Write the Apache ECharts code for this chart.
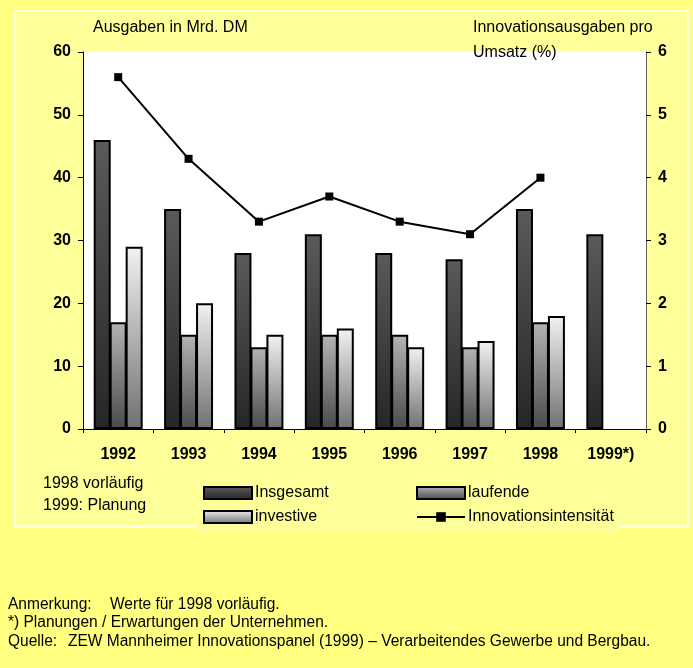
<!DOCTYPE html>
<html>
<head>
<meta charset="utf-8">
<script src="https://cdn.jsdelivr.net/npm/echarts@6/dist/echarts.min.js"></script>
<style>
  html, body { margin: 0; padding: 0; background: #FFFF80; }
  #chart { width: 693px; height: 668px; }
</style>
</head>
<body>
<div id="chart"></div>
<script>
const years = ["1992", "1993", "1994", "1995", "1996", "1997", "1998", "1999*)"];
const insgesamt = [46, 35, 28, 31, 28, 27, 35, 31];
const laufende = [17, 15, 13, 15, 15, 13, 17, null];
const investive = [29, 20, 15, 16, 13, 14, 18, null];
const intensitaet = [5.6, 4.3, 3.3, 3.7, 3.3, 3.1, 4.0, null];

const FONT = "Liberation Sans, Arial, sans-serif";
const innerYellow = "#FFFF99";

const chart = echarts.init(document.getElementById("chart"));

// vertical gradient for the bars
const grad = (top, bottom) => new echarts.graphic.LinearGradient(0, 0, 0, 1, [
  { offset: 0, color: top },
  { offset: 1, color: bottom }
]);

const barStyle = (top, bottom) => ({
  color: grad(top, bottom),
  borderColor: "#000",
  borderWidth: 2
});

const txt = (x, y, text, opts = {}) => ({
  type: "text",
  x: x,
  y: y,
  z: 100,
  scaleX: opts.scaleX || 1,
  style: {
    text: text,
    font: "16px " + FONT,
    fill: "#000",
    verticalAlign: "middle"
  }
});

// footer glyphs are a touch narrower than the rest
const narrow = { scaleX: 0.97 };

// one legend per entry so each one sits where the reference puts it
const legendItem = (name, left, top, icon) => ({
  data: [{ name: name, icon: icon }],
  left: left, top: top, padding: 0,
  itemWidth: 48, itemHeight: 12,
  textStyle: { fontSize: 16, fontFamily: FONT, color: "#000", padding: [0, 0, 0, -2] }
});

const option = {
  animation: false,
  backgroundColor: "#FFFF80",
  grid: {
    left: 83, right: 47, top: 52, bottom: 239,
    show: true, backgroundColor: "#fff", borderWidth: 0
  },
  xAxis: {
    type: "category",
    data: years,
    axisLine: { lineStyle: { color: "#000", width: 1 } },
    axisTick: { show: true, length: 4, lineStyle: { color: "#000" } },
    axisLabel: { fontSize: 16, fontWeight: "bold", fontFamily: FONT, color: "#000", margin: 18 }
  },
  yAxis: [
    {
      type: "value", min: 0, max: 60, interval: 10,
      axisLine: { show: true, lineStyle: { color: "#000" } },
      axisTick: { show: true, length: 5, lineStyle: { color: "#000" } },
      splitLine: { show: false },
      axisLabel: { fontSize: 16, fontWeight: "bold", fontFamily: FONT, color: "#000", margin: 12 }
    },
    {
      type: "value", min: 0, max: 6, interval: 1,
      axisLine: { show: true, lineStyle: { color: "#666" } },
      axisTick: { show: true, length: 5, lineStyle: { color: "#000" } },
      splitLine: { show: false },
      axisLabel: { fontSize: 16, fontWeight: "bold", fontFamily: FONT, color: "#000", margin: 12 }
    }
  ],
  legend: [
    legendItem("Insgesamt", 203, 485, "rect"),
    legendItem("laufende", 416, 485, "rect"),
    legendItem("investive", 203, 509, "rect"),
    legendItem("Innovationsintensität", 416, 509)
  ],
  series: [
    {
      name: "Insgesamt", type: "bar", data: insgesamt,
      barWidth: 17, barGap: "-6%",
      itemStyle: barStyle("#5a5a5a", "#262626")
    },
    {
      name: "laufende", type: "bar", data: laufende,
      barWidth: 17, barGap: "-6%",
      itemStyle: barStyle("#b4b4b4", "#4a4a4a")
    },
    {
      name: "investive", type: "bar", data: investive,
      barWidth: 17, barGap: "-6%",
      itemStyle: barStyle("#f2f2f2", "#707070")
    },
    {
      name: "Innovationsintensität", type: "line", yAxisIndex: 1,
      data: intensitaet,
      symbol: "rect", symbolSize: 8,
      lineStyle: { color: "#000", width: 2 },
      itemStyle: { color: "#000" },
      z: 5
    }
  ],
  graphic: [
    // white frame round the chart
    {
      type: "rect", z: -100,
      shape: { x: 15, y: 11, width: 673, height: 516 },
      style: { fill: innerYellow, stroke: "#fff", lineWidth: 1.5 }
    },
    // legend box hides the bottom frame line
    {
      type: "rect", z: -50,
      shape: { x: 195, y: 478, width: 425, height: 56 },
      style: { fill: innerYellow }
    },
    txt(93, 28, "Ausgaben in Mrd. DM"),
    txt(473, 28, "Innovationsausgaben pro"),
    txt(473, 53, "Umsatz (%)"),
    txt(43, 484, "1998 vorläufig"),
    txt(43, 506, "1999: Planung"),
    txt(8, 605, "Anmerkung:", narrow),
    txt(110, 605, "Werte für 1998 vorläufig.", narrow),
    txt(8, 623, "*) Planungen / Erwartungen der Unternehmen.", narrow),
    txt(8, 642, "Quelle:", narrow),
    txt(68, 642, "ZEW Mannheimer Innovationspanel (1999) – Verarbeitendes Gewerbe und Bergbau.", narrow)
  ]
};

chart.setOption(option);
window.addEventListener("resize", () => chart.resize());
</script>
</body>
</html>
